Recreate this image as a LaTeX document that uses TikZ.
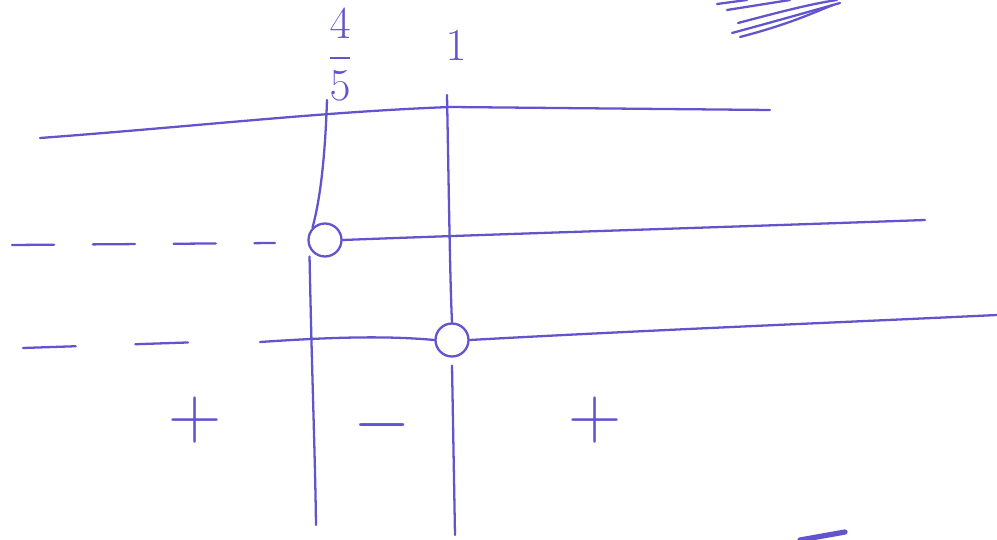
\RequirePackage{fix-cm}
\documentclass[tikz,border=0pt]{standalone}
\usepackage{amsmath}
\usepackage{xcolor}
\definecolor{penblue}{RGB}{98,84,205}
\usepackage{tikz}
\usetikzlibrary{positioning,calc}

\begin{document}
\begin{tikzpicture}[x=0.02cm,y=-0.02cm]
  \tikzstyle{ink}=[draw=penblue,line width=1.3pt,line cap=round]
  \tikzstyle{hole}=[circle,draw=penblue,line width=1.3pt,minimum size=0.66cm,inner sep=0pt]
  \tikzstyle{tag}=[text=penblue,font=\fontsize{26}{30}\selectfont,inner sep=0pt]
  \tikzstyle{sign}=[text=penblue,font=\fontsize{42}{46}\selectfont,inner sep=0pt]
  \useasboundingbox (0,0) rectangle (997,540);

  % valeurs
  \node[tag] (v1) at (340,55) {$\dfrac{4}{5}$};
  \node[tag] (v2) at (456,46) {$1$};

  % ronds
  \node[hole] (h1) at (325,240) {};
  \node[hole] (h2) at (452,340) {};

  % bouts des traits
  \coordinate (t1) at (40,138);
  \coordinate (t2) at (770,110);
  \coordinate (a1) at (327,100);
  \coordinate (a2) at (316,525);
  \coordinate (b1) at (447,95);
  \coordinate (b2) at (455,535);
  \coordinate (m1) at (12,245);
  \coordinate (m2) at (275,243);
  \coordinate (m3) at (925,220);
  \coordinate (l1) at (23,348);
  \coordinate (l2) at (202,342);
  \coordinate (l3) at (260,342);
  \coordinate (l4) at (997,315);

  % ligne du haut
  \draw[ink] (t1) .. controls (200,126) and (320,112) .. (450,107) -- (t2);

  % verticales
  \draw[ink] (a1) .. controls (325,160) and (320,200) .. (h1.north west);
  \draw[ink] (h1.south west) ++(-3,4) .. controls (312,380) and (315,450) .. (a2);
  \draw[ink] (b1) .. controls (449,200) and (450,280) .. (h2.north);
  \draw[ink] (h2.south) ++(0,8) -- (b2);

  % ligne du milieu
  \draw[ink,dash pattern=on 24pt off 22pt] (m1) -- (m2);
  \draw[ink] (h1.east) .. controls (500,234) and (700,228) .. (m3);

  % ligne du bas
  \draw[ink,dash pattern=on 30pt off 34pt] (l1) -- (l2);
  \draw[ink] (l3) .. controls (320,338) and (380,335) .. (h2.west);
  \draw[ink] (h2.east) .. controls (650,330) and (850,322) .. (l4);

  % signes
  \node[sign] (s1) at (195,420) {$+$};
  \node[sign] (s2) at (382,425) {$-$};
  \node[sign] (s3) at (595,420) {$+$};

  % gribouillis
  \draw[ink] (717,4) -- (747,0);
  \draw[ink] (727,10) -- (790,0);
  \draw[ink] (738,23) .. controls (780,12) and (810,4) .. (837,0);
  \draw[ink] (732,33) .. controls (780,20) and (815,10) .. (840,3);
  \draw[ink] (740,37) .. controls (790,24) and (815,12) .. (833,5);
  \draw[ink,line width=3pt] (800,540) -- (845,532);
\end{tikzpicture}
\end{document}
